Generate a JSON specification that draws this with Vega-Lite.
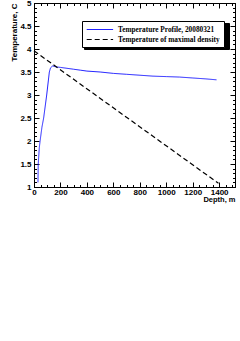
{
  "$schema": "https://vega.github.io/schema/vega-lite/v6.json",
  "autosize": {"type": "none"},
  "padding": {"left": 34, "top": 3, "right": 5, "bottom": 154},
  "width": 201,
  "height": 184,
  "background": "white",
  "config": {
    "view": {"stroke": "black", "strokeWidth": 1},
    "axis": {
      "domainColor": "black",
      "tickColor": "black",
      "labelFont": "Liberation Sans",
      "labelFontWeight": "bold",
      "labelFontSize": 8,
      "labelColor": "black",
      "titleFont": "Liberation Sans",
      "titleFontWeight": "bold",
      "titleFontSize": 8,
      "titleColor": "black",
      "grid": false
    },
    "legend": {
      "title": null, "orient": "none", "padding": 3.5,
      "symbolType": "M-3.3,0H3.3", "symbolSize": 64, "symbolStrokeWidth": 1.2, "symbolOffset": 9.4,
      "labelFont": "Liberation Serif", "labelFontWeight": "bold", "labelFontSize": 7.3,
      "labelOffset": 13.1, "rowPadding": 1
    }
  },
  "data": {
    "values": [
      {"series": "Temperature Profile, 20080321", "depth": 30, "temp": 1.1},
      {"series": "Temperature Profile, 20080321", "depth": 32, "temp": 1.5},
      {"series": "Temperature Profile, 20080321", "depth": 40, "temp": 1.85},
      {"series": "Temperature Profile, 20080321", "depth": 46, "temp": 2.0},
      {"series": "Temperature Profile, 20080321", "depth": 60, "temp": 2.3},
      {"series": "Temperature Profile, 20080321", "depth": 73, "temp": 2.5},
      {"series": "Temperature Profile, 20080321", "depth": 96, "temp": 3.0},
      {"series": "Temperature Profile, 20080321", "depth": 116, "temp": 3.5},
      {"series": "Temperature Profile, 20080321", "depth": 125, "temp": 3.59},
      {"series": "Temperature Profile, 20080321", "depth": 140, "temp": 3.63},
      {"series": "Temperature Profile, 20080321", "depth": 170, "temp": 3.61},
      {"series": "Temperature Profile, 20080321", "depth": 200, "temp": 3.6},
      {"series": "Temperature Profile, 20080321", "depth": 250, "temp": 3.58},
      {"series": "Temperature Profile, 20080321", "depth": 300, "temp": 3.56},
      {"series": "Temperature Profile, 20080321", "depth": 350, "temp": 3.54},
      {"series": "Temperature Profile, 20080321", "depth": 400, "temp": 3.52},
      {"series": "Temperature Profile, 20080321", "depth": 500, "temp": 3.5},
      {"series": "Temperature Profile, 20080321", "depth": 600, "temp": 3.47},
      {"series": "Temperature Profile, 20080321", "depth": 700, "temp": 3.45},
      {"series": "Temperature Profile, 20080321", "depth": 800, "temp": 3.43},
      {"series": "Temperature Profile, 20080321", "depth": 900, "temp": 3.41},
      {"series": "Temperature Profile, 20080321", "depth": 1000, "temp": 3.4},
      {"series": "Temperature Profile, 20080321", "depth": 1100, "temp": 3.39},
      {"series": "Temperature Profile, 20080321", "depth": 1200, "temp": 3.37},
      {"series": "Temperature Profile, 20080321", "depth": 1300, "temp": 3.35},
      {"series": "Temperature Profile, 20080321", "depth": 1380, "temp": 3.33},
      {"series": "Temperature of maximal density", "depth": 0, "temp": 3.96},
      {"series": "Temperature of maximal density", "depth": 1395, "temp": 1.08}
    ]
  },
  "encoding": {
    "x": {"field": "depth", "type": "quantitative", "scale": {"domain": [0, 1520], "nice": false, "zero": false}},
    "y": {"field": "temp", "type": "quantitative", "scale": {"domain": [1, 5], "nice": false, "zero": false}},
    "color": {
      "field": "series", "type": "nominal",
      "scale": {"domain": ["Temperature Profile, 20080321", "Temperature of maximal density"], "range": ["#2020ff", "black"]},
      "legend": {
        "legendX": 48, "legendY": 18, "zindex": 2,
        "fillColor": "white", "strokeColor": "black", "labelColor": "black"
      }
    },
    "strokeDash": {
      "field": "series", "type": "nominal",
      "scale": {"domain": ["Temperature Profile, 20080321", "Temperature of maximal density"], "range": [[1, 0], [5, 3]]},
      "legend": {
        "legendX": 48, "legendY": 18, "zindex": 2,
        "fillColor": "white", "strokeColor": "black", "labelColor": "black"
      }
    },
    "opacity": {
      "field": "series", "type": "nominal",
      "scale": {"domain": ["Temperature of maximal density", "Temperature Profile, 20080321"], "range": [1, 1]},
      "legend": {
        "legendX": 50, "legendY": 20, "zindex": 1,
        "fillColor": "black", "strokeColor": "black", "labelColor": "black",
        "symbolStrokeColor": "black", "symbolFillColor": "black",
        "labelExpr": "''", "labelOffset": 118.6
      }
    }
  },
  "layer": [
    {
      "transform": [{"filter": "datum.series === 'Temperature Profile, 20080321'"}],
      "mark": {"type": "line", "strokeWidth": 1},
      "encoding": {
        "x": {
          "field": "depth", "type": "quantitative",
          "axis": {
            "orient": "bottom",
            "values": [0,50,100,150,200,250,300,350,400,450,500,550,600,650,700,750,800,850,900,950,1000,1050,1100,1150,1200,1250,1300,1350,1400,1450,1500],
            "format": "d",
            "labelExpr": "datum.value % 200 === 0 ? datum.label : ''",
            "tickSize": {"condition": {"test": "datum.value % 200 === 0", "value": -5}, "value": -2.5},
            "labelPadding": 6,
            "labelFlush": false,
            "labelOverlap": false,
            "title": "Depth, m",
            "titleAnchor": "end", "titleAlign": "right", "titleX": 201, "titleY": 14.5, "titleBaseline": "alphabetic", "titleFontSize": 7.5
          }
        },
        "y": {
          "field": "temp", "type": "quantitative",
          "axis": {
            "orient": "left",
            "values": [1,1.1,1.2,1.3,1.4,1.5,1.6,1.7,1.8,1.9,2,2.1,2.2,2.3,2.4,2.5,2.6,2.7,2.8,2.9,3,3.1,3.2,3.3,3.4,3.5,3.6,3.7,3.8,3.9,4,4.1,4.2,4.3,4.4,4.5,4.6,4.7,4.8,4.9,5],
            "format": "~g",
            "labelExpr": "abs(datum.value*2 - round(datum.value*2)) < 0.001 ? datum.label : ''",
            "tickSize": {"condition": {"test": "abs(datum.value*2 - round(datum.value*2)) < 0.001", "value": -5}, "value": -2.5},
            "labelPadding": 8,
            "labelFlush": false,
            "labelOverlap": false,
            "title": "Temperature, C",
            "titleAngle": -90, "titleAlign": "right", "titleBaseline": "middle", "titleX": -20, "titleY": 0
          }
        }
      }
    },
    {
      "transform": [{"filter": "datum.series === 'Temperature of maximal density'"}],
      "mark": {"type": "line", "strokeWidth": 1.2},
      "encoding": {
        "x": {
          "field": "depth", "type": "quantitative",
          "axis": {
            "orient": "top",
            "values": [0,50,100,150,200,250,300,350,400,450,500,550,600,650,700,750,800,850,900,950,1000,1050,1100,1150,1200,1250,1300,1350,1400,1450,1500],
            "labels": false,
            "tickSize": {"condition": {"test": "datum.value % 200 === 0", "value": -5}, "value": -2.5},
            "title": null
          }
        },
        "y": {
          "field": "temp", "type": "quantitative",
          "axis": {
            "orient": "right",
            "values": [1,1.1,1.2,1.3,1.4,1.5,1.6,1.7,1.8,1.9,2,2.1,2.2,2.3,2.4,2.5,2.6,2.7,2.8,2.9,3,3.1,3.2,3.3,3.4,3.5,3.6,3.7,3.8,3.9,4,4.1,4.2,4.3,4.4,4.5,4.6,4.7,4.8,4.9,5],
            "labels": false,
            "tickSize": {"condition": {"test": "abs(datum.value*2 - round(datum.value*2)) < 0.001", "value": -5}, "value": -2.5},
            "title": null
          }
        }
      }
    }
  ]
}
